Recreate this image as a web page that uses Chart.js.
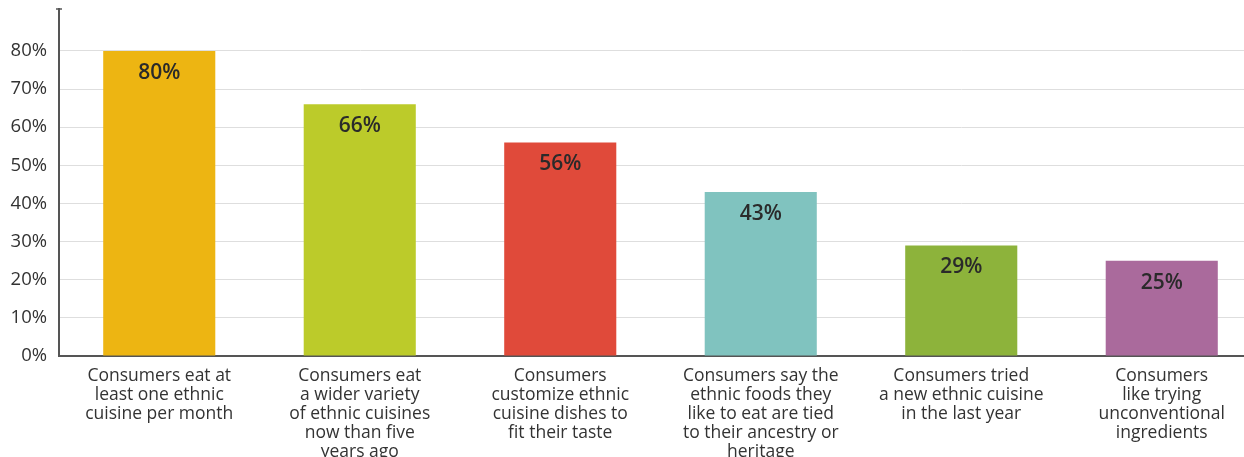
<!DOCTYPE html>
<html>
<head>
<meta charset="utf-8">
<script src="https://cdn.jsdelivr.net/npm/chart.js@4/dist/chart.umd.min.js"></script>
<style>
  html, body { margin: 0; padding: 0; background: #fff; overflow: hidden; }
  #wrap { width: 1262px; height: 457px; }
</style>
</head>
<body>
<div id="wrap"><canvas id="chart" width="1262" height="457"></canvas></div>
<script>
// Chart data
const categories = [
  ['Consumers eat at', 'least one ethnic', 'cuisine per month'],
  ['Consumers eat', 'a wider variety', 'of ethnic cuisines', 'now than five', 'years ago'],
  ['Consumers', 'customize ethnic', 'cuisine dishes to', 'fit their taste'],
  ['Consumers say the', 'ethnic foods they', 'like to eat are tied', 'to their ancestry or', 'heritage'],
  ['Consumers tried', 'a new ethnic cuisine', 'in the last year'],
  ['Consumers', 'like trying', 'unconventional', 'ingredients']
];
const shares = [80, 66, 56, 43, 29, 25];
const barColors = ['#EDB512', '#BCCB2A', '#E04A3A', '#80C3BF', '#8DB33B', '#AA6A9C'];
const yTicks = [0, 10, 20, 30, 40, 50, 60, 70, 80];

const FONT = '"Open Sans", "Noto Sans", sans-serif';

// Values printed inside the bars
const barValueLabels = {
  id: 'barValueLabels',
  afterDatasetsDraw(chart) {
    const ctx = chart.ctx;
    const meta = chart.getDatasetMeta(0);
    ctx.save();
    ctx.font = '600 21px ' + FONT;
    ctx.fillStyle = '#2a2a2a';
    ctx.textAlign = 'center';
    ctx.textBaseline = 'middle';
    meta.data.forEach((bar, i) => {
      ctx.fillText(shares[i] + '%', bar.x, bar.y + 22);
    });
    ctx.restore();
  }
};

// Small cap on top of the y axis
const axisCap = {
  id: 'axisCap',
  afterDraw(chart) {
    const ctx = chart.ctx;
    const area = chart.chartArea;
    ctx.save();
    ctx.strokeStyle = '#555';
    ctx.lineWidth = 1.5;
    ctx.beginPath();
    ctx.moveTo(area.left - 3, area.top);
    ctx.lineTo(area.left + 3, area.top);
    ctx.stroke();
    ctx.restore();
  }
};

new Chart(document.getElementById('chart'), {
  type: 'bar',
  data: {
    labels: categories,
    datasets: [{
      data: shares,
      backgroundColor: barColors,
      borderWidth: 0,
      barPercentage: 0.559,
      categoryPercentage: 1
    }]
  },
  options: {
    responsive: false,
    animation: false,
    layout: { padding: { top: 9, right: 0, left: 0, bottom: 0 } },
    plugins: {
      legend: { display: false },
      tooltip: { enabled: false }
    },
    scales: {
      x: {
        grid: { display: false, drawTicks: false },
        border: { display: true, color: '#555', width: 2 },
        ticks: {
          color: '#333',
          font: { family: FONT, size: 17.5, lineHeight: 1.09 },
          padding: 10,
          maxRotation: 0,
          autoSkip: false
        },
        afterFit: scale => { scale.height = 101; scale.paddingLeft = 0; scale.paddingRight = 0; }
      },
      y: {
        min: 0,
        max: 91,
        grid: { color: '#dedede', lineWidth: 1, drawTicks: false },
        border: { display: true, color: '#555', width: 2 },
        ticks: {
          color: '#333',
          font: { family: FONT, size: 18.5 },
          padding: 12,
          callback: v => v + '%'
        },
        afterBuildTicks: scale => {
          scale.ticks = yTicks.map(v => ({ value: v }));
        },
        afterFit: scale => { scale.width = 59; scale.paddingTop = 0; scale.paddingBottom = 0; }
      }
    }
  },
  plugins: [barValueLabels, axisCap]
});
</script>
</body>
</html>
